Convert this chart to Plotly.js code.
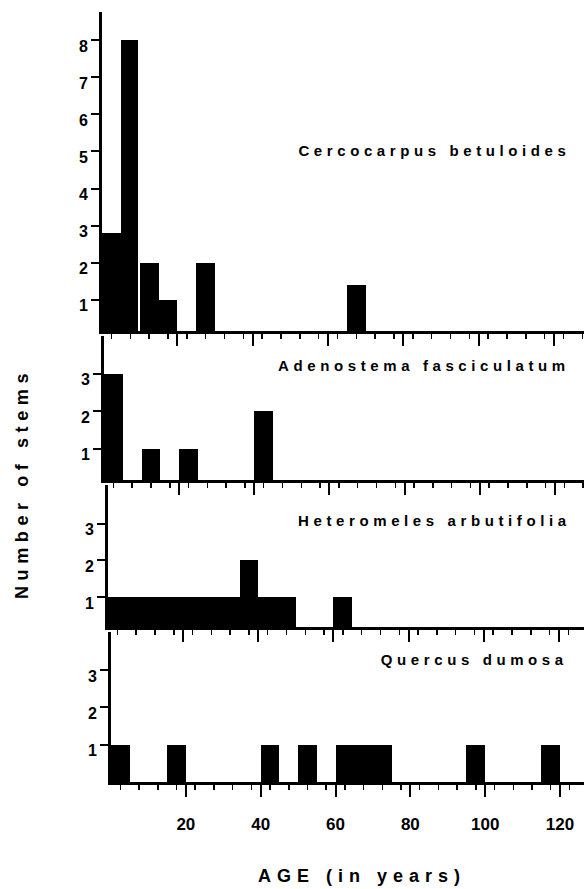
<!DOCTYPE html>
<html>
<head>
<meta charset="utf-8">
<script src="https://cdn.plot.ly/plotly-3.0.1.min.js"></script>
<style>
  html, body { margin: 0; padding: 0; background: #fff; }
  #chart { width: 584px; height: 889px; }
  .xtick text { letter-spacing: 2.5px; }
  .annotation[data-index="0"] text,
  .annotation[data-index="1"] text,
  .annotation[data-index="2"] text,
  .annotation[data-index="3"] text { letter-spacing: 4.6px; }
  .annotation[data-index="4"] text { letter-spacing: 5.6px; }
  .annotation[data-index="5"] text { letter-spacing: 6px; }
</style>
</head>
<body>
<div id="chart"></div>
<script>
// ---- data (ages in years: bin start / bin end, and number of stems) ----
const cercoStart = [0, 5, 10, 15, 25, 65];
const cercoEnd   = [5, 9.5, 15, 20, 30, 70];
const cercoCount = [2.8, 8, 2, 1, 2, 1.4];

const adenoStart = [0, 10, 20, 40];
const adenoEnd   = [5, 15, 25, 45];
const adenoCount = [3, 1, 1, 2];

const heteroStart = [0, 5, 10, 15, 20, 25, 30, 35, 40, 45, 60];
const heteroEnd   = [5, 10, 15, 20, 25, 30, 35, 40, 45, 50, 65];
const heteroCount = [1, 1, 1, 1, 1, 1, 1, 2, 1, 1, 1];

const quercusStart = [0, 15, 40, 50, 60, 65, 70, 95, 115];
const quercusEnd   = [5, 20, 45, 55, 65, 70, 75, 100, 120];
const quercusCount = [1, 1, 1, 1, 1, 1, 1, 1, 1];

const species = ['Cercocarpus betuloides', 'Adenostema fasciculatum',
                 'Heteromeles arbutifolia', 'Quercus dumosa'];
const ageTicks = [20, 40, 60, 80, 100, 120];
const ageTickText = ['20', '40', '60', '80', '100', '120'];
const topTicks = [1, 2, 3, 4, 5, 6, 7, 8];
const smallTicks = [1, 2, 3];
const xTitle = 'AGE (in years)';
const yTitle = 'Number of stems';

// ---- layout helpers (pixel geometry of the page) ----
const W = 584, H = 889;
const FONT = '"Liberation Sans", Arial, Helvetica, sans-serif';
const py = p => 1 - p / H;
const px = p => p / W;

const panels = [
  {start: cercoStart, end: cercoEnd, count: cercoCount, left: 102, scale: 3.767,
   top: 12, bottom: 331, yr: [0.16, 8.76], ticks: topTicks},
  {start: adenoStart, end: adenoEnd, count: adenoCount, left: 104, scale: 3.758,
   top: 336, bottom: 480, yr: [0.16, 4.0], ticks: smallTicks},
  {start: heteroStart, end: heteroEnd, count: heteroCount, left: 108, scale: 3.758,
   top: 485, bottom: 627, yr: [0.19, 4.05], ticks: smallTicks},
  {start: quercusStart, end: quercusEnd, count: quercusCount, left: 111, scale: 3.742,
   top: 632, bottom: 782, yr: [0, 4.02], ticks: smallTicks}
];

const data = [];
const layout = {
  width: W, height: H,
  margin: {l: 0, r: 0, t: 0, b: 0, pad: 0},
  paper_bgcolor: '#fff', plot_bgcolor: 'rgba(0,0,0,0)',
  showlegend: false, bargap: 0,
  font: {family: FONT, color: '#000'},
  annotations: []
};

panels.forEach((p, i) => {
  const n = i + 1;
  const xa = 'xaxis' + (n === 1 ? '' : n), ya = 'yaxis' + (n === 1 ? '' : n);
  const xref = 'x' + (n === 1 ? '' : n), yref = 'y' + (n === 1 ? '' : n);
  data.push({
    type: 'bar',
    x: p.start.map((s, k) => (s + p.end[k]) / 2),
    y: p.count,
    width: p.start.map((s, k) => p.end[k] - s),
    base: 0,
    xaxis: xref, yaxis: yref,
    marker: {color: '#000', line: {width: 0}},
    hoverinfo: 'skip'
  });
  const isBottom = n === panels.length;
  layout[xa] = {
    domain: [px(p.left), 1],
    range: [0, (W - p.left) / p.scale],
    anchor: yref,
    showline: true, linecolor: '#000', linewidth: 3,
    showgrid: false, zeroline: false,
    tickmode: 'array', tickvals: ageTicks, ticktext: ageTickText,
    ticks: 'outside', ticklen: 12, tickwidth: 2, tickcolor: '#000',
    minor: {tickmode: 'linear', tick0: 2.5, dtick: 5, ticks: 'outside',
            ticklen: 5, tickwidth: 1.5, tickcolor: '#000', showgrid: false},
    showticklabels: isBottom,
    ticklabelstandoff: 13,
    tickfont: {family: FONT, size: 17, color: '#000', weight: 'bold'},
    fixedrange: true
  };
  layout[ya] = {
    domain: [py(p.bottom), py(p.top)],
    range: p.yr,
    anchor: xref,
    showline: true, linecolor: '#000', linewidth: 3,
    showgrid: false, zeroline: false,
    tickmode: 'array', tickvals: p.ticks,
    ticks: 'outside', ticklen: 8, tickwidth: 2, tickcolor: '#000',
    ticklabelshift: 6,
    tickfont: {family: FONT, size: 16, color: '#000', weight: 'bold'},
    fixedrange: true
  };
});

const labelPos = [[434, 150], [424, 365], [434, 520], [474, 659]];
species.forEach((s, i) => {
  layout.annotations.push({
    text: s, xref: 'paper', yref: 'paper',
    x: px(labelPos[i][0]), y: py(labelPos[i][1]),
    xanchor: 'center', yanchor: 'middle', showarrow: false,
    font: {family: FONT, size: 15, color: '#000', weight: 'bold'}
  });
});
layout.annotations.push({
  text: yTitle, xref: 'paper', yref: 'paper',
  x: px(22), y: py(484), textangle: -90,
  xanchor: 'center', yanchor: 'middle', showarrow: false,
  font: {family: FONT, size: 18, color: '#000', weight: 'bold'}
});
layout.annotations.push({
  text: xTitle, xref: 'paper', yref: 'paper',
  x: px(362), y: py(876),
  xanchor: 'center', yanchor: 'middle', showarrow: false,
  font: {family: FONT, size: 18, color: '#000', weight: 'bold'}
});

Plotly.newPlot('chart', data, layout, {displayModeBar: false, staticPlot: true});
</script>
</body>
</html>
